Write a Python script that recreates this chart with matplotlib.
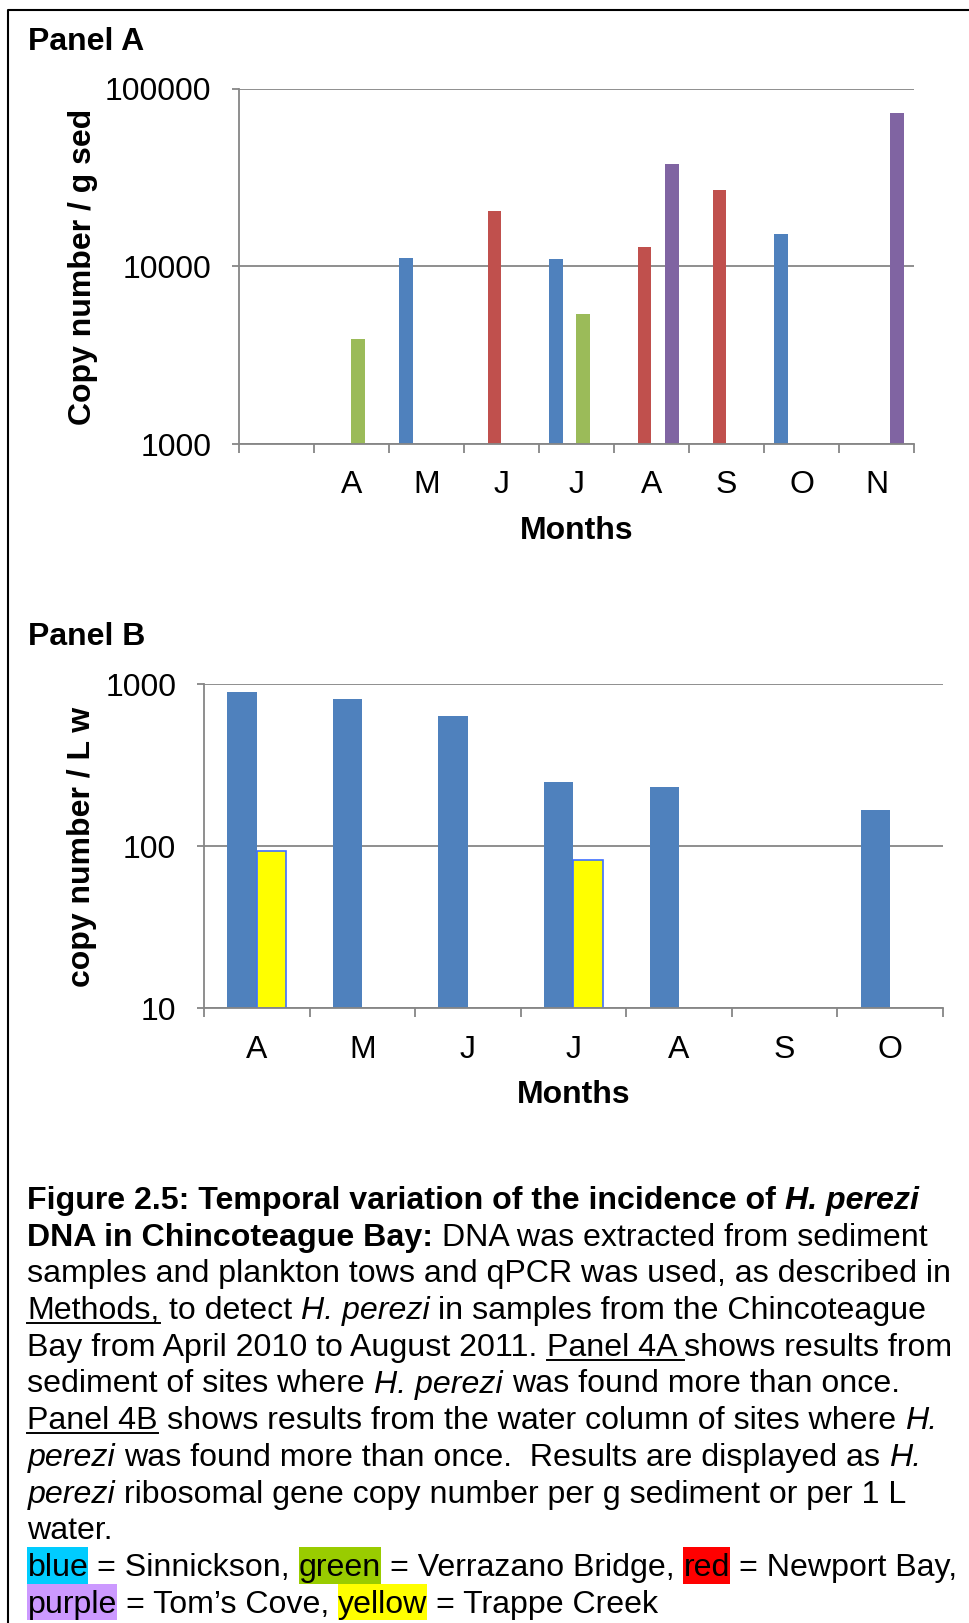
import numpy as np
import matplotlib
matplotlib.use("Agg")
import matplotlib.pyplot as plt
from matplotlib.ticker import FixedLocator, FixedFormatter, NullLocator
from matplotlib.patches import Rectangle
from matplotlib.lines import Line2D

# Panel A - sediment (copy number / g sed)
months_a = ['', 'A', 'M', 'J', 'J', 'A', 'S', 'O', 'N']
sinnickson_a = [np.nan, np.nan, 11200, np.nan, 11000, np.nan, np.nan, 15300, np.nan]
newport_a = [np.nan, np.nan, np.nan, 20400, np.nan, 12900, 26800, np.nan, np.nan]
verrazano_a = [np.nan, 3900, np.nan, np.nan, 5400, np.nan, np.nan, np.nan, np.nan]
toms_cove_a = [np.nan, np.nan, np.nan, np.nan, np.nan, 37500, np.nan, np.nan, 73300]
yticks_a = [1000, 10000, 100000]

# Panel B - water column (copy number / L w)
months_b = ['A', 'M', 'J', 'J', 'A', 'S', 'O']
sinnickson_b = [894, 807, 631, 248, 233, np.nan, 166]
trappe_b = [93, np.nan, np.nan, 82, np.nan, np.nan, np.nan]
yticks_b = [10, 100, 1000]

BLUE, RED, GREEN, PURPLE = '#4F81BD', '#C0504D', '#9BBB59', '#8064A2'
YELLOW = '#FFFF00'
GRAY = '#868686'
FONT = 'Liberation Sans'
FS = 23
FS_CAP = 23.12

W, H = 970, 1623
plt.rcParams['font.family'] = FONT
fig = plt.figure(figsize=(W / 100, H / 100), dpi=100)


def fx(x):
    return x / W


def fy(y):
    return 1 - y / H


def style_axis(ax, cats, yticks, xpad):
    ax.set_yscale('log')
    ax.set_ylim(yticks[0], yticks[-1])
    ax.set_xlim(-0.5, len(cats) - 0.5)
    ax.yaxis.set_major_locator(FixedLocator(yticks))
    ax.yaxis.set_major_formatter(FixedFormatter([str(t) for t in yticks]))
    ax.yaxis.set_minor_locator(NullLocator())
    ax.xaxis.set_major_locator(FixedLocator(np.arange(len(cats))))
    ax.xaxis.set_major_formatter(FixedFormatter(cats))
    ax.xaxis.set_minor_locator(FixedLocator(np.arange(len(cats) + 1) - 0.5))
    ax.tick_params(axis='x', which='major', length=0, pad=xpad, labelsize=FS)
    ax.tick_params(axis='x', which='minor', length=6.5, width=1.3, color=GRAY)
    ax.tick_params(axis='y', which='major', length=5, width=1.3, color=GRAY,
                   pad=15, labelsize=FS)
    for s in ['top', 'right']:
        ax.spines[s].set_visible(False)
    for s in ['left', 'bottom']:
        ax.spines[s].set_color(GRAY)
        ax.spines[s].set_linewidth(1.3)
    ax.yaxis.grid(True, color=GRAY, linewidth=1.3)
    ax.set_axisbelow(True)


# ---- Panel A
axA = fig.add_axes([fx(239), fy(444.3), (914 - 239) / W, (444.3 - 88.6) / H])
style_axis(axA, months_a, yticks_a, 18.8)
wa = 0.182
xa = np.arange(len(months_a))
for i, (vals, col) in enumerate(zip([sinnickson_a, newport_a, verrazano_a, toms_cove_a],
                                    [BLUE, RED, GREEN, PURPLE])):
    v = np.array(vals, dtype=float)
    axA.bar(xa + (i - 1.5) * wa, v - yticks_a[0], bottom=yticks_a[0], width=wa,
            color=col, linewidth=0)

# ---- Panel B
axB = fig.add_axes([fx(204), fy(1008.4), (943 - 204) / W, (1008.4 - 684) / H])
style_axis(axB, months_b, yticks_b, 19.0)
wb = 0.28
xb = np.arange(len(months_b))
axB.bar(xb - wb / 2, np.array(sinnickson_b, dtype=float) - yticks_b[0],
        bottom=yticks_b[0], width=wb, color=BLUE, linewidth=0)
axB.bar(xb + wb / 2, np.array(trappe_b, dtype=float) - yticks_b[0],
        bottom=yticks_b[0], width=wb, color=YELLOW, edgecolor='#3F6FFF', linewidth=1.2)

# ---- panel titles / axis labels
fig.text(fx(28), fy(50), 'Panel A', fontsize=FS, weight='bold', va='baseline')
fig.text(fx(28), fy(645), 'Panel B', fontsize=FS, weight='bold', va='baseline')
fig.text(fx(83), fy(266.5), 'Copy number / g sed', fontsize=FS, weight='bold',
         rotation=90, ha='center', va='center')
fig.text(fx(82), fy(847), 'copy number / L w', fontsize=FS, weight='bold',
         rotation=90, ha='center', va='center')
fig.text(fx(576.5), fy(539), 'Months', fontsize=FS, weight='bold', ha='center', va='baseline')
fig.text(fx(573.5), fy(1103), 'Months', fontsize=FS, weight='bold', ha='center', va='baseline')

# ---- border (top and left only)
fig.add_artist(Line2D([fx(8), fx(8), 1], [0, fy(10), fy(10)], color='black',
                      linewidth=1.5, transform=fig.transFigure))

# ---- caption
HL = {'blue': '#00CCFF', 'green': '#99CC00', 'red': '#FF0000',
      'purple': '#CC99FF', 'yellow': '#FFFF00'}
caption = [
    [("Figure 2.5: Temporal variation of the incidence of ", "b", None), ("H. perezi", "bi", None)],
    [("DNA in Chincoteague Bay:", "b", None), (" DNA was extracted from sediment", "", None)],
    [("samples and plankton tows and qPCR was used, as described in", "", None)],
    [("Methods,", "u", None), (" to detect ", "", None), ("H. perezi", "i", None),
     (" in samples from the Chincoteague", "", None)],
    [("Bay from April 2010 to August 2011. ", "", None), ("Panel 4A ", "u", None),
     ("shows results from", "", None)],
    [("sediment of sites where ", "", None), ("H. perezi", "i", None),
     (" was found more than once.", "", None)],
    [("Panel 4B", "u", None), (" shows results from the water column of sites where ", "", None),
     ("H.", "i", None)],
    [("perezi", "i", None), (" was found more than once.  Results are displayed as ", "", None),
     ("H.", "i", None)],
    [("perezi", "i", None), (" ribosomal gene copy number per g sediment or per 1 L", "", None)],
    [("water.", "", None)],
    [("blue", "", "blue"), (" = Sinnickson, ", "", None), ("green", "", "green"),
     (" = Verrazano Bridge, ", "", None), ("red", "", "red"), (" = Newport Bay,", "", None)],
    [("purple", "", "purple"), (" = Tom\u2019s Cove, ", "", None), ("yellow", "", "yellow"),
     (" = Trappe Creek", "", None)],
]

renderer = fig.canvas.get_renderer()


def advance(s, weight, style):
    kw = dict(fontsize=FS_CAP, weight=weight, style=style)
    t1 = fig.text(0, 0, '|' + s + '|', **kw)
    t2 = fig.text(0, 0, '||', **kw)
    w = t1.get_window_extent(renderer).width - t2.get_window_extent(renderer).width
    t1.remove()
    t2.remove()
    return w


line_h = 36.7
base0 = 1576 - 10 * line_h
for k, runs in enumerate(caption):
    base = base0 + k * line_h
    x = 27.5
    for text, st, hl in runs:
        weight = 'bold' if 'b' in st else 'normal'
        style = 'italic' if 'i' in st else 'normal'
        w = advance(text, weight, style)
        lead = len(text) - len(text.lstrip(' '))
        core = text.strip(' ')
        lead_w = advance(' ' * lead, weight, style) if lead else 0
        if hl:
            fig.add_artist(Rectangle((fx(x), fy(base + 7.5)), w / W, line_h / H,
                                     transform=fig.transFigure, facecolor=HL[hl],
                                     edgecolor='none', zorder=1))
        if core:
            fig.text(fx(x + lead_w), fy(base), core, fontsize=FS_CAP, weight=weight,
                     style=style, va='baseline', ha='left', zorder=3)
        if 'u' in st:
            fig.add_artist(Line2D([fx(x), fx(x + w)], [fy(base + 4), fy(base + 4)],
                                  color='black', linewidth=1.4,
                                  transform=fig.transFigure))
        x += w

fig.savefig('out.png', dpi=100)
